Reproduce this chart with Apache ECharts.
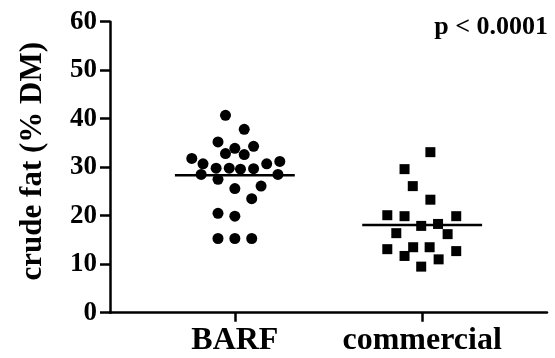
<!DOCTYPE html>
<html>
<head>
<meta charset="utf-8">
<script src="https://cdn.jsdelivr.net/npm/echarts@6/dist/echarts.min.js"></script>
<style>html,body{margin:0;padding:0;background:#fff}#c{width:555px;height:358px}</style>
</head>
<body>
<div id="c"></div>
<script>
const categories = ['BARF', 'commercial'];
const yTicks = [0, 10, 20, 30, 40, 50, 60];
const yTitle = 'crude fat (% DM)';
const pText = 'p < 0.0001';

// BARF values (% DM) and horizontal spread within the column (category units)
const barfValues = [40.7, 37.8, 35.2, 33.9, 34.3, 32.8, 32.6, 31.8, 30.7, 29.8, 29.8, 29.6, 29.7, 30.7, 31.2, 28.5, 27.5, 28.5, 25.6, 26.1, 23.5, 20.5, 19.9, 15.3, 15.3, 15.3];
const barfSpread = [-0.05, 0.05, -0.09, 0.00, 0.10, -0.05, 0.05, -0.23, -0.17, -0.10, -0.03, 0.03, 0.10, 0.17, 0.24, -0.18, -0.09, 0.23, 0.00, 0.14, 0.09, -0.09, 0.00, -0.09, 0.00, 0.09];

// commercial values (% DM) and spread
const commValues = [33.1, 29.6, 26.1, 23.3, 20.1, 19.9, 19.9, 17.9, 18.3, 16.4, 16.2, 13.1, 13.5, 13.5, 12.7, 11.7, 11.0, 9.5];
const commSpread = [0.044, -0.094, -0.05, 0.044, -0.186, -0.094, 0.182, -0.005, 0.085, -0.138, 0.136, -0.186, -0.048, 0.04, 0.182, -0.094, 0.088, -0.005];

const mean = a => a.reduce((s, v) => s + v, 0) / a.length;
const pts = (vals, spread, idx) => vals.map((v, i) => [idx + spread[i], v]);
const meanLine = (vals, idx) => [[idx - 0.32, mean(vals)], [idx + 0.32, mean(vals)]];

// category axis laid out in 8 equal slots, groups sitting in slots 2 and 5
const slotCount = 8;
const groupSlots = [2, 5];
const slotLabels = Array.from({length: slotCount}, (_, i) => {
  const k = groupSlots.indexOf(i);
  return k >= 0 ? categories[k] : '';
});

const font = '"Liberation Serif", "Times New Roman", serif';
const chart = echarts.init(document.getElementById('c'));
chart.setOption({
  animation: false,
  grid: {left: 110, right: 8, top: 21.7, bottom: 45.3},
  xAxis: [
    {
      type: 'category', data: slotLabels, boundaryGap: false,
      splitLine: {show: false},
      axisLine: {show: true, onZero: false, lineStyle: {color: '#000', width: 2.5}},
      axisTick: {show: true, interval: (i) => groupSlots.indexOf(i) >= 0, length: 9,
        lineStyle: {color: '#000', width: 2.5}},
      axisLabel: {interval: 0, color: '#000', fontFamily: font, fontWeight: 'bold', fontSize: 32,
        margin: 8, padding: [4, 0, 0, 0]}
    },
    {type: 'value', show: false, min: -2 / 3, max: 5 / 3}
  ],
  yAxis: {
    type: 'value', min: 0, max: 60, interval: 10,
    splitLine: {show: false},
    axisLine: {show: true, onZero: false, lineStyle: {color: '#000', width: 2.5}},
    axisTick: {show: true, length: 10, lineStyle: {color: '#000', width: 2.5}},
    axisLabel: {color: '#000', fontFamily: font, fontWeight: 'bold', fontSize: 27,
      margin: 8, padding: [0, 5, 0, 0]},
    name: yTitle, nameLocation: 'middle', nameGap: 62,
    nameTextStyle: {color: '#000', fontFamily: font, fontWeight: 'bold', fontSize: 31, padding: [0, 0, 0, 12]}
  },
  graphic: [{type: 'text', right: 7, top: 14,
    style: {text: pText, fill: '#000', font: 'bold 26px ' + font}}],
  series: [
    {type: 'scatter', xAxisIndex: 1, data: pts(barfValues, barfSpread, 0), symbol: 'circle', symbolSize: 11,
      itemStyle: {color: '#000', opacity: 1}},
    {type: 'scatter', xAxisIndex: 1, data: pts(commValues, commSpread, 1), symbol: 'rect', symbolSize: 10,
      itemStyle: {color: '#000', opacity: 1}},
    {type: 'line', xAxisIndex: 1, data: meanLine(barfValues, 0), symbol: 'none', lineStyle: {color: '#000', width: 2.5}},
    {type: 'line', xAxisIndex: 1, data: meanLine(commValues, 1), symbol: 'none', lineStyle: {color: '#000', width: 2.5}}
  ]
});
</script>
</body>
</html>
